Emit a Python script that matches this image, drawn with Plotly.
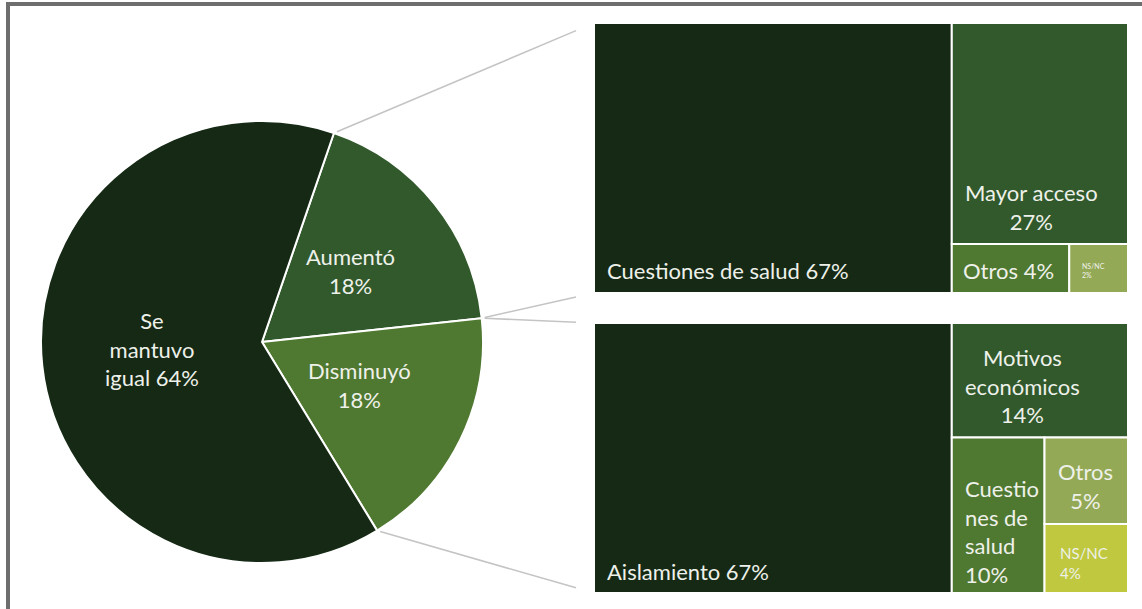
import math
import plotly.graph_objects as go

W, H = 1142, 609

# ---- data -----------------------------------------------------------------
pie_labels = ["Aumentó", "Disminuyó", "Se mantuvo igual"]
pie_values = [18, 18, 64]
pie_colors = ["#31592c", "#4f7830", "#152915"]

top_labels = ["Cuestiones de salud", "Mayor acceso", "Otros", "NS/NC"]
top_values = [67, 27, 4, 2]
top_colors = ["#152915", "#31592c", "#4f7830", "#94a956"]

bot_labels = ["Aislamiento", "Motivos económicos", "Cuestiones de salud", "Otros", "NS/NC"]
bot_values = [67, 14, 10, 5, 4]
bot_colors = ["#152915", "#31592c", "#4f7830", "#94a956", "#bfc83f"]

# how each label is wrapped inside its tile / slice ("\n" = line break;
# the flag puts the value on its own line)
pie_wrap = [("Aumentó", True), ("Disminuyó", True), ("Se\nmantuvo\nigual", False)]
top_wrap = [("Cuestiones de salud", False), ("Mayor acceso", True), ("Otros", False), ("NS/NC", True)]
bot_wrap = [("Aislamiento", False), ("Motivos\neconómicos", True), ("Cuestio\nnes de\nsalud", True),
            ("Otros", True), ("NS/NC", True)]

FONT = "Lato, 'Open Sans', sans-serif"
TXT = "#eef1ea"
START_ANGLE = 19.0  # clockwise from 12 o'clock, where the first slice begins


def px(x):
    return x / W


def py(y):
    return 1 - y / H


def make_text(wrap, value):
    label, own_line = wrap
    return label.replace("\n", "<br>") + ("<br>" if own_line else " ") + f"{value}%"


# ---- layout boxes (pixels) ------------------------------------------------
pie_cx, pie_cy, pie_r = 262, 342, 221
top_box = (594, 23, 1128, 293)
bot_box = (594, 323, 1128, 593)

fig = go.Figure()

fig.add_trace(go.Pie(
    labels=pie_labels, values=pie_values, sort=False, direction="clockwise",
    rotation=START_ANGLE,
    marker=dict(colors=pie_colors, line=dict(color="white", width=2)),
    textinfo="none", hoverinfo="label+percent", showlegend=False,
    domain=dict(x=[px(pie_cx - pie_r), px(pie_cx + pie_r)],
                y=[py(pie_cy + pie_r), py(pie_cy - pie_r)]),
))


def add_treemap(labels, values, colors, box):
    x0, y0, x1, y1 = box
    fig.add_trace(go.Treemap(
        labels=labels, parents=[""] * len(labels), values=values,
        sort=True,
        tiling=dict(packing="squarify", squarifyratio=1, pad=0),
        marker=dict(colors=colors, line=dict(color="white", width=2),
                    pad=dict(t=0, l=0, r=0, b=0)),
        pathbar=dict(visible=False),
        textinfo="none", hoverinfo="label+value",
        domain=dict(x=[px(x0), px(x1)], y=[py(y1), py(y0)]),
    ))


add_treemap(top_labels, top_values, top_colors, top_box)
add_treemap(bot_labels, bot_values, bot_colors, bot_box)


# ---- connector lines from the pie to the two treemaps ----------------------
def pie_point(frac):
    ang = math.radians(START_ANGLE + frac * 360)
    return pie_cx + pie_r * math.sin(ang), pie_cy - pie_r * math.cos(ang)


tot = sum(pie_values)
a_start = pie_point(0)
a_end = pie_point(pie_values[0] / tot)
d_end = pie_point((pie_values[0] + pie_values[1]) / tot)

connectors = [
    (a_start, (top_box[0], top_box[1])),
    (a_end, (top_box[0], top_box[3])),
    (a_end, (bot_box[0], bot_box[1])),
    (d_end, (bot_box[0], bot_box[3])),
]
shapes = []
stop_x = top_box[0] - 18
for (sx, sy), (tx, ty) in connectors:
    slope = (ty - sy) / (tx - sx)
    shapes.append(dict(type="line", xref="paper", yref="paper",
                       x0=px(sx + 3), y0=py(sy + 3 * slope),
                       x1=px(stop_x), y1=py(sy + (stop_x - sx) * slope),
                       line=dict(color="#c4c4c4", width=1.6)))

# outer frame (top and left edges)
shapes.append(dict(type="line", xref="paper", yref="paper", x0=px(6), x1=1.02,
                   y0=py(4), y1=py(4), line=dict(color="#6e6e6e", width=4)))
shapes.append(dict(type="line", xref="paper", yref="paper", x0=px(8), x1=px(8),
                   y0=py(2), y1=-0.02, line=dict(color="#6e6e6e", width=4)))

# ---- labels ----------------------------------------------------------------
annotations = []


def label(text, x, y, size=22, xanchor="center", align="center"):
    annotations.append(dict(text=text, x=px(x), y=py(y), xref="paper", yref="paper",
                            xanchor=xanchor, yanchor="middle", align=align,
                            showarrow=False,
                            font=dict(family=FONT, size=size, color=TXT)))


pie_pos = [(350, 271), (360, 385), (152, 349)]
for w, v, (x, y) in zip(pie_wrap, pie_values, pie_pos):
    label(make_text(w, v), x, y)

top_pos = [(605, 270, 22, "left"), (1031, 207, 22, "center"),
           (1008, 270, 22, "center"), (1080, 270, 7, "left")]
for w, v, (x, y, s, a) in zip(top_wrap, top_values, top_pos):
    label(make_text(w, v), x, y, size=s, xanchor=a, align=a)

bot_pos = [(605, 571, 22, "left"), (1022, 386, 22, "center"), (963, 531, 22, "left"),
           (1085, 486, 22, "center"), (1058, 563, 15, "left")]
for w, v, (x, y, s, a) in zip(bot_wrap, bot_values, bot_pos):
    label(make_text(w, v), x, y, size=s, xanchor=a, align=a)

fig.update_layout(
    width=W, height=H, margin=dict(l=0, r=0, t=0, b=0),
    paper_bgcolor="white", plot_bgcolor="white",
    shapes=shapes, annotations=annotations, showlegend=False,
)

fig.write_html("out.html")
